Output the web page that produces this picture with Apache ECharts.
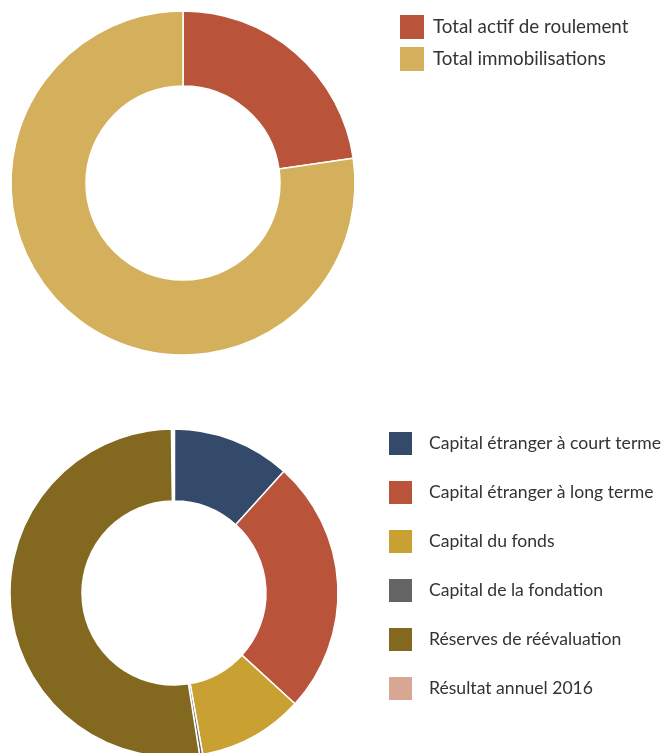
<!DOCTYPE html>
<html>
<head>
<meta charset="utf-8">
<script src="https://cdn.jsdelivr.net/npm/echarts@6/dist/echarts.min.js"></script>
<style>
  html, body { margin: 0; padding: 0; background: #fff; }
  #chart { width: 666px; height: 753px; }
</style>
</head>
<body>
<div id="chart"></div>
<script>
// Actifs (parts en %)
const actifNames = ["Total actif de roulement", "Total immobilisations"];
const actifValues = [22.7, 77.3];
const actifColors = ["#b9533a", "#d4b05c"];

// Passifs (parts en %)
const passifNames = [
  "Capital étranger à court terme",
  "Capital étranger à long terme",
  "Capital du fonds",
  "Capital de la fondation",
  "Réserves de réévaluation",
  "Résultat annuel 2016"
];
const passifValues = [11.7, 25.1, 10.4, 0.3, 52.3, 0.2];
const passifColors = ["#344a6b", "#b9533a", "#c9a032", "#646464", "#82691f", "#d8a794"];

const fontFamily = "Lato, 'Open Sans', sans-serif";

let chart = echarts.init(document.getElementById("chart"));
let option = {
  animation: false,
  legend: [
    {
      data: actifNames,
      orient: "vertical",
      left: 400,
      top: 15,
      padding: 0,
      itemWidth: 24,
      itemHeight: 24,
      itemGap: 8,
      icon: "rect",
      itemStyle: { borderWidth: 0 },
      textStyle: { color: "#333", fontSize: 18.8, fontFamily: fontFamily, padding: [0, 0, 0, 4] },
    },
    {
      data: passifNames,
      orient: "vertical",
      left: 389,
      top: 432,
      padding: 0,
      itemWidth: 23,
      itemHeight: 23,
      itemGap: 26,
      icon: "rect",
      itemStyle: { borderWidth: 0 },
      textStyle: { color: "#333", fontSize: 17.6, fontFamily: fontFamily, padding: [0, 0, 0, 12] },
    },
  ],
  series: [
    {
      type: "pie",
      center: [183, 183],
      radius: [97, 172],
      startAngle: 90,
      label: { show: false },
      labelLine: { show: false },
      emphasis: { disabled: true },
      itemStyle: { borderColor: "#fff", borderWidth: 1.5 },
      data: actifNames.map((n, i) => ({ name: n, value: actifValues[i], itemStyle: { color: actifColors[i] } })),
    },
    {
      type: "pie",
      center: [174, 593],
      radius: [92, 164],
      startAngle: 90,
      minAngle: 0,
      label: { show: false },
      labelLine: { show: false },
      emphasis: { disabled: true },
      itemStyle: { borderColor: "#fff", borderWidth: 1.5 },
      data: passifNames.map((n, i) => ({
        name: n,
        value: passifValues[i],
        // la tranche minuscule du résultat n'apparaît que comme un fin blanc
        itemStyle: { color: passifColors[i], borderWidth: i === 5 ? 2.5 : 1.5 },
      })),
    },
  ],
};
chart.setOption(option);
</script>
</body>
</html>
